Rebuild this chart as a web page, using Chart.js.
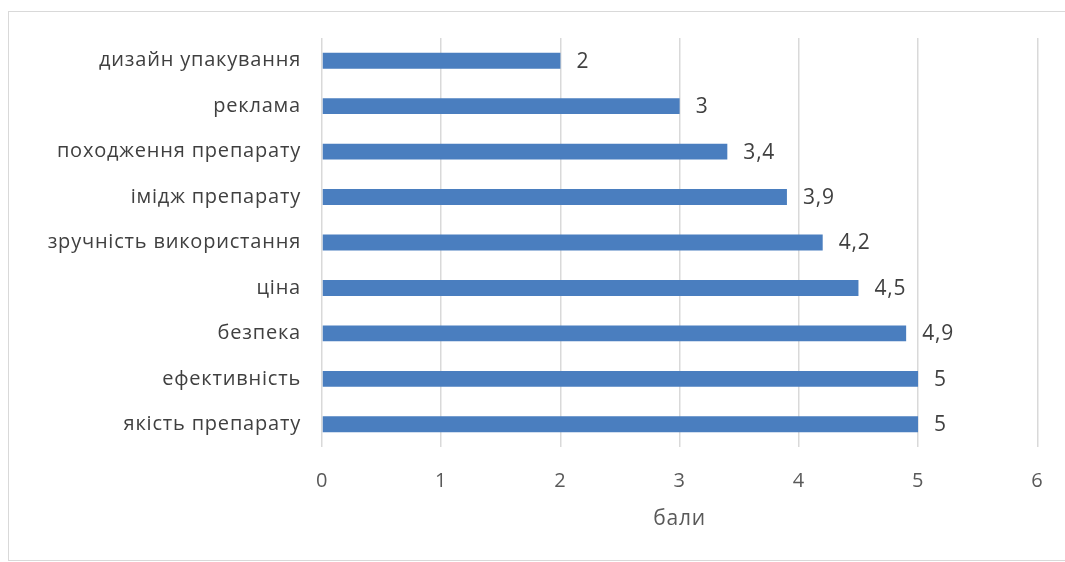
<!DOCTYPE html>
<html>
<head>
<meta charset="utf-8">
<script src="https://cdn.jsdelivr.net/npm/chart.js@4"></script>
<style>
  body { margin: 0; background: #fff; }
  #wrap { position: relative; width: 1065px; height: 562px; overflow: hidden; }
  #frame { position: absolute; left: 8px; top: 11px; width: 1070px; height: 550px; border: 1px solid #d9d9d9; box-sizing: border-box; }
  canvas { position: absolute; left: 0; top: 0; }
</style>
</head>
<body>
<div id="wrap">
  <div id="frame"></div>
  <canvas id="myChart" width="1065" height="562"></canvas>
</div>
<script>
'use strict';

var categories = ['дизайн упакування', 'реклама', 'походження препарату', 'імідж препарату',
  'зручність використання', 'ціна', 'безпека', 'ефективність', 'якість препарату'];
var scores = [2, 3, 3.4, 3.9, 4.2, 4.5, 4.9, 5, 5];
var axisTitle = 'бали';

var fontName = '"Open Sans", sans-serif';

// the original text is a bit wider than Open Sans
var wideText = {
  id: 'wideText',
  beforeDraw: function(chart) {
    chart.ctx.letterSpacing = '0.8px';
  }
};

// writes the value with a comma at the end of each bar
var valueLabels = {
  id: 'valueLabels',
  afterDatasetsDraw: function(chart) {
    var ctx = chart.ctx;
    var meta = chart.getDatasetMeta(0);
    ctx.save();
    ctx.font = '21px ' + fontName;
    ctx.fillStyle = '#404040';
    ctx.textAlign = 'left';
    ctx.textBaseline = 'middle';
    meta.data.forEach(function(bar, i) {
      var text = String(scores[i]).replace('.', ',');
      ctx.fillText(text, bar.x + 16, bar.y + 1);
    });
    ctx.restore();
  }
};

var ctx = document.getElementById('myChart').getContext('2d');
var chart = new Chart(ctx, {
  type: 'bar',
  data: {
    labels: categories,
    datasets: [{
      data: scores,
      backgroundColor: '#4a7ebf',
      barPercentage: 0.7,
      categoryPercentage: 0.5
    }]
  },
  options: {
    indexAxis: 'y',
    responsive: false,
    animation: false,
    layout: { padding: { top: 38, right: 27, left: 0, bottom: 0 } },
    plugins: {
      legend: { display: false },
      tooltip: { enabled: false }
    },
    scales: {
      x: {
        min: 0,
        max: 6,
        ticks: { stepSize: 1, color: '#595959', font: { family: fontName, size: 20 }, padding: 22 },
        grid: { color: '#d9d9d9', lineWidth: 1.5, drawTicks: false },
        border: { display: false },
        title: {
          display: true,
          text: axisTitle,
          color: '#595959',
          font: { family: fontName, size: 21 },
          padding: { top: 0, bottom: 30 }
        },
        afterFit: function(scale) { scale.height = 115; }
      },
      y: {
        ticks: { color: '#404040', font: { family: fontName, size: 20 }, padding: 21 },
        grid: { display: false, drawTicks: false },
        border: { display: false },
        afterFit: function(scale) { scale.width = 322; }
      }
    }
  },
  plugins: [wideText, valueLabels]
});
</script>
</body>
</html>
